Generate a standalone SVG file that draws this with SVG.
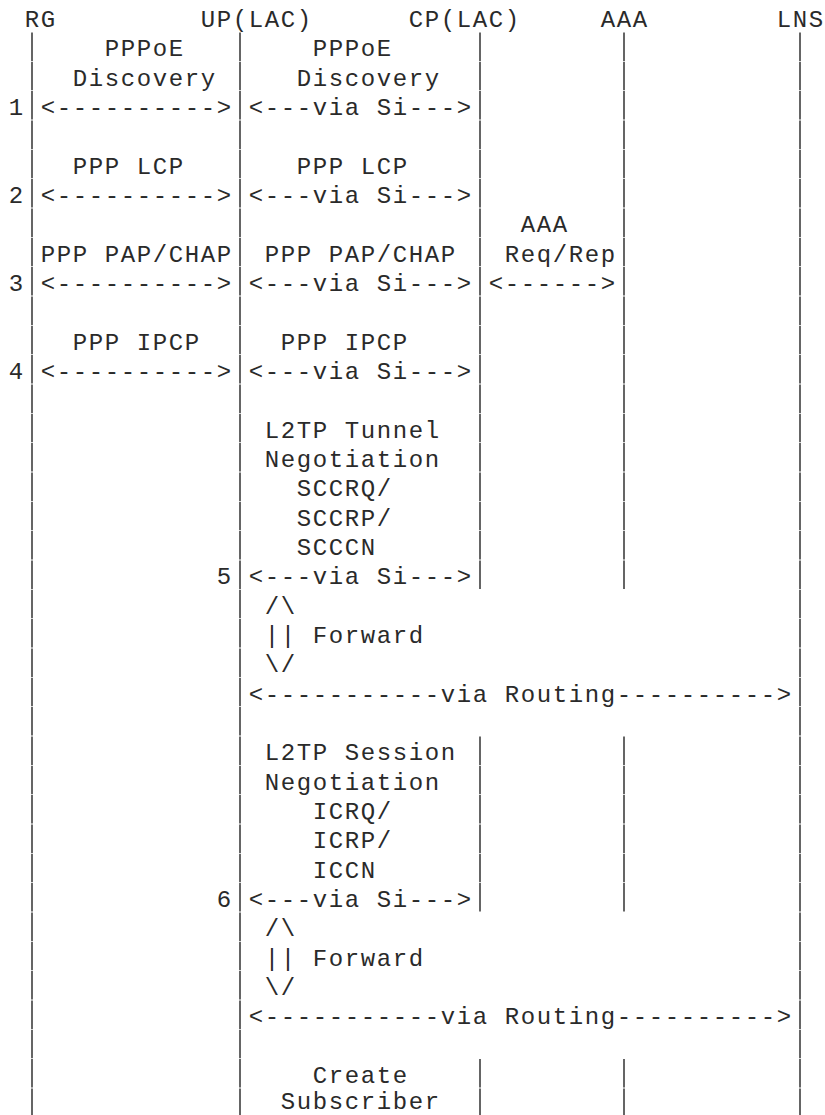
<svg xmlns="http://www.w3.org/2000/svg" width="825" height="1115" viewBox="0 0 825 1115">
<style>
text { font-family: "Liberation Mono", "Courier New", monospace; font-size: 24px; letter-spacing: 1.6px; fill: #2a2a2a; }
.life { stroke: #333; stroke-width: 1.5; fill: none; stroke-dasharray: 28.5 0.833; stroke-dashoffset: -0.42; }
</style>
<rect width="825" height="1115" fill="#fff"/>
<g id="node-RG">
<text x="24.8" y="27">RG</text>
<line class="life" x1="32" y1="32" x2="32" y2="1115"/>
</g>
<g id="node-UP">
<text x="200.8" y="27">UP(LAC)</text>
<line class="life" x1="240" y1="32" x2="240" y2="1115"/>
</g>
<g id="node-CP">
<text x="408.8" y="27">CP(LAC)</text>
<line class="life" x1="480" y1="32" x2="480" y2="589.33"/>
<line class="life" x1="480" y1="736" x2="480" y2="912"/>
<line class="life" x1="480" y1="1058.67" x2="480" y2="1115"/>
</g>
<g id="node-AAA">
<text x="600.8" y="27">AAA</text>
<line class="life" x1="624" y1="32" x2="624" y2="589.33"/>
<line class="life" x1="624" y1="736" x2="624" y2="912"/>
<line class="life" x1="624" y1="1058.67" x2="624" y2="1115"/>
</g>
<g id="node-LNS">
<text x="776.8" y="27">LNS</text>
<line class="life" x1="800" y1="32" x2="800" y2="1115"/>
</g>
<g id="steps">
<text x="8.8" y="115">1</text>
<text x="8.8" y="203">2</text>
<text x="8.8" y="291">3</text>
<text x="8.8" y="379">4</text>
<text x="216.8" y="584.33">5</text>
<text x="216.8" y="907">6</text>
</g>
<g id="connectors">
<text x="40.8" y="115">&lt;----------&gt;</text>
<text x="248.8" y="115">&lt;---via Si---&gt;</text>
<text x="40.8" y="203">&lt;----------&gt;</text>
<text x="248.8" y="203">&lt;---via Si---&gt;</text>
<text x="40.8" y="291">&lt;----------&gt;</text>
<text x="248.8" y="291">&lt;---via Si---&gt;</text>
<text x="488.8" y="291">&lt;------&gt;</text>
<text x="40.8" y="379">&lt;----------&gt;</text>
<text x="248.8" y="379">&lt;---via Si---&gt;</text>
<text x="248.8" y="584.33">&lt;---via Si---&gt;</text>
<text x="264.8" y="613.67">/\</text>
<text x="264.8" y="643">||</text>
<text x="264.8" y="672.33">\/</text>
<text x="248.8" y="701.67">&lt;-----------via Routing----------&gt;</text>
<text x="248.8" y="907">&lt;---via Si---&gt;</text>
<text x="264.8" y="936.33">/\</text>
<text x="264.8" y="965.67">||</text>
<text x="264.8" y="995">\/</text>
<text x="248.8" y="1024.33">&lt;-----------via Routing----------&gt;</text>
</g>
<g id="labels">
<text x="104.8" y="56.33">PPPoE</text>
<text x="312.8" y="56.33">PPPoE</text>
<text x="72.8" y="85.67">Discovery</text>
<text x="296.8" y="85.67">Discovery</text>
<text x="72.8" y="173.67">PPP LCP</text>
<text x="296.8" y="173.67">PPP LCP</text>
<text x="520.8" y="232.33">AAA</text>
<text x="40.8" y="261.67">PPP PAP/CHAP</text>
<text x="264.8" y="261.67">PPP PAP/CHAP</text>
<text x="504.8" y="261.67">Req/Rep</text>
<text x="72.8" y="349.67">PPP IPCP</text>
<text x="280.8" y="349.67">PPP IPCP</text>
<text x="264.8" y="437.67">L2TP Tunnel</text>
<text x="264.8" y="467">Negotiation</text>
<text x="296.8" y="496.33">SCCRQ/</text>
<text x="296.8" y="525.67">SCCRP/</text>
<text x="296.8" y="555">SCCCN</text>
<text x="312.8" y="643">Forward</text>
<text x="264.8" y="760.33">L2TP Session</text>
<text x="264.8" y="789.67">Negotiation</text>
<text x="312.8" y="819">ICRQ/</text>
<text x="312.8" y="848.33">ICRP/</text>
<text x="312.8" y="877.67">ICCN</text>
<text x="312.8" y="965.67">Forward</text>
<text x="312.8" y="1083">Create</text>
<text x="280.8" y="1109">Subscriber</text>
</g>
</svg>
